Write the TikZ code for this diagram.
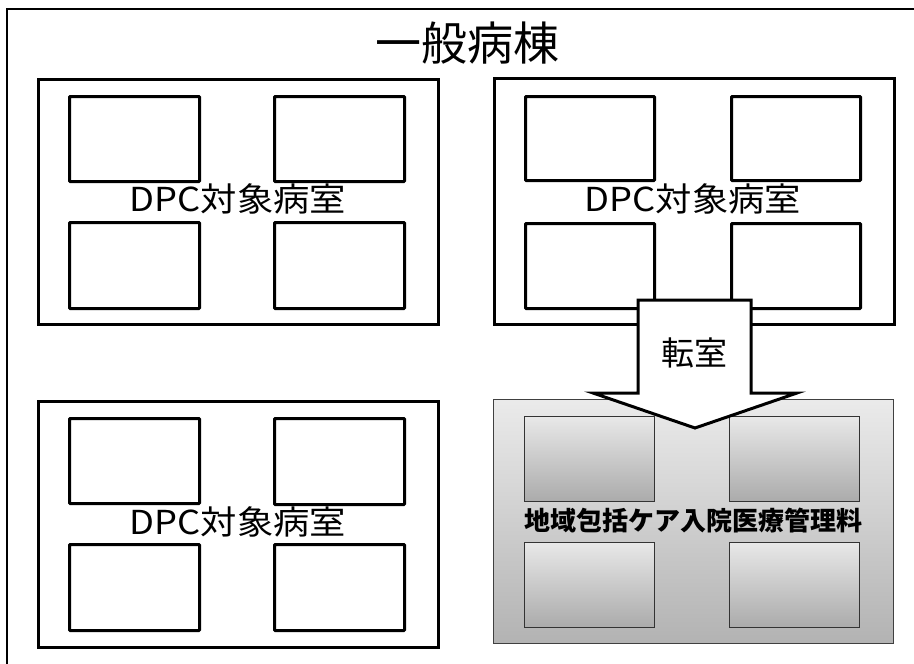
\documentclass[tikz,border=0pt]{standalone}
\usepackage{graphicx}
\usepackage{fontspec}
\setmainfont{Noto Sans CJK JP}
\newcommand{\dpclabel}{\scalebox{1.1}[1]{DPC対象病室}}
\begin{document}
\begin{tikzpicture}[x=1pt,y=-1pt,
  block/.style={draw=black,line width=3pt,fill=white,anchor=north west,inner sep=0pt,minimum width=400pt,minimum height=245pt},
  room/.style={draw=black,line width=3pt,fill=white,anchor=north west,inner sep=0pt,minimum width=130pt,minimum height=85pt,rounded corners=0.8pt},
  grayblock/.style={draw=black!75,line width=1pt,top color=black!8,bottom color=black!30,anchor=north west,inner sep=0pt,minimum width=400pt,minimum height=244pt},
  grayroom/.style={draw=black!80,line width=1pt,top color=black!9,bottom color=black!33,anchor=north west,inner sep=0pt,minimum width=130pt,minimum height=85pt},
  dpc/.style={font=\fontsize{33}{36}\selectfont,inner sep=0pt},
  bigarrow/.style={draw=black,line width=3pt,fill=white,line join=miter}
]
\useasboundingbox (0,0) rectangle (914,664);
\fill[white] (0,0) rectangle (914,664);
% outer frame (clipped by page)
\draw[line width=1.5pt] (7,680) -- (7,9) -- (930,9);
\node[font=\fontsize{46}{50}\selectfont,inner sep=0pt] (title) at (467,43) {一般病棟};

% top-left block
\node[block] (tl) at (37,78) {};
\node[room] (tl1) at (68,95) {};
\node[room] (tl2) at (273,95) {};
\node[room,minimum height=86pt] (tl3) at (68,221) {};
\node[room,minimum height=86pt] (tl4) at (273,221) {};
\node[dpc] (tlt) at (238,199) {\dpclabel};

% top-right block
\node[block,minimum height=246pt] (tr) at (493,77) {};
\node[room,minimum width=129pt,minimum height=84pt] (tr1) at (524,95) {};
\node[room,minimum width=129pt,minimum height=84pt] (tr2) at (730,95) {};
\node[room,minimum width=129pt] (tr3) at (524,222) {};
\node[room,minimum width=129pt] (tr4) at (730,222) {};
\node[dpc] (trt) at (693,199) {\dpclabel};

% bottom-left block
\node[block,minimum height=246pt] (bl) at (37,400) {};
\node[room] (bl1) at (68,417) {};
\node[room,minimum height=86pt] (bl2) at (273,417) {};
\node[room,minimum height=86pt] (bl3) at (68,543) {};
\node[room,minimum height=86pt] (bl4) at (273,543) {};
\node[dpc] (blt) at (238,522) {\dpclabel};

% gray block
\node[grayblock] (gr) at (493,399) {};
\node[grayroom] (gr1) at (524,416) {};
\node[grayroom] (gr2) at (729,416) {};
\node[grayroom] (gr3) at (524,542) {};
\node[grayroom] (gr4) at (729,542) {};
\node[font=\fontsize{26}{30}\selectfont\bfseries,inner sep=0pt] (grt) at (693,521) {地域包括ケア入院医療管理料};

% block arrow
\draw[bigarrow] (638,300) -- (751,300) -- (751,393) -- (797,393) -- (695,428) -- (593,393) -- (638,393) -- cycle;
\node[font=\fontsize{33}{36}\selectfont,inner sep=0pt] (arr) at (694,353) {転室};
\end{tikzpicture}
\end{document}
